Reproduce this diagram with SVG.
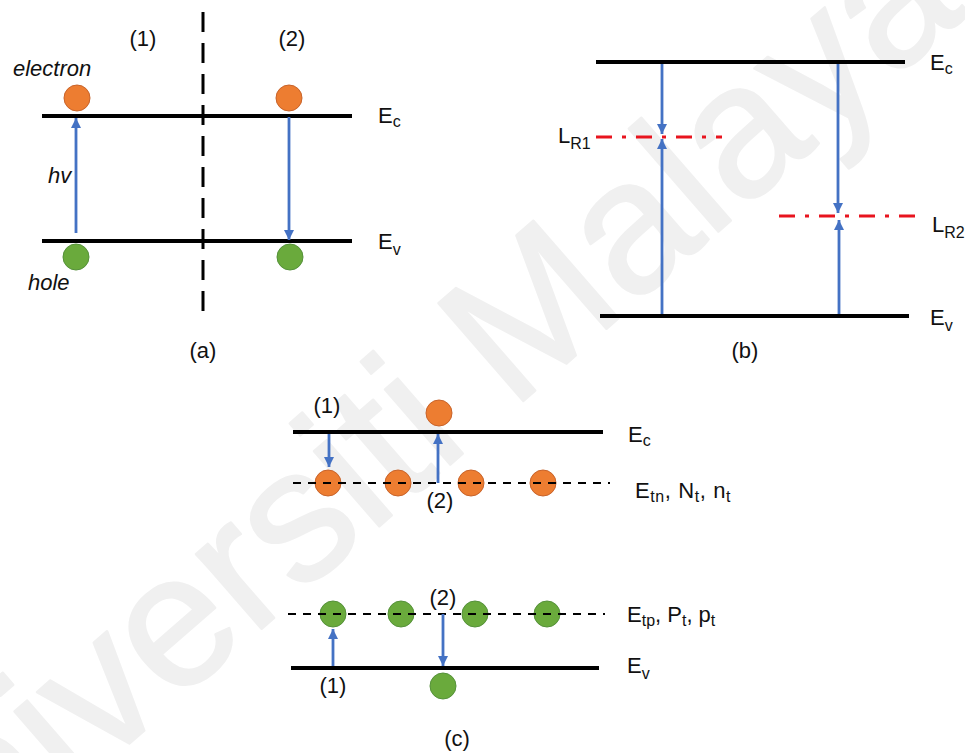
<svg xmlns="http://www.w3.org/2000/svg" width="965" height="753" viewBox="0 0 965 753">
<style>
text{font-family:"Liberation Sans",Arial,sans-serif;font-size:22px;fill:#111}
.it{font-style:italic}
.sub{font-size:16px}
.lvl{stroke:#000;stroke-width:4;fill:none}
.dsh{stroke:#000;stroke-width:2;stroke-dasharray:8 7;fill:none}
.red{stroke:#e8141e;stroke-width:3;stroke-dasharray:16 10 4 10;fill:none}
.arr{stroke:#4472c4;stroke-width:2.8;fill:none;marker-end:url(#ah)}
.el{fill:#ed7d31;stroke:#c8632a;stroke-width:1}
.ho{fill:#6aaa3c;stroke:#55913a;stroke-width:1}
.wm{font-size:188px;fill:#f0f0f0;stroke:#f0f0f0;stroke-width:2.5;stroke-linejoin:round;font-family:"Liberation Sans",Arial,sans-serif}
</style>
<defs>
<marker id="ah" viewBox="0 0 10 10" refX="10" refY="5" markerWidth="10" markerHeight="10" markerUnits="userSpaceOnUse" orient="auto"><path d="M0,0 L10,5 L0,10 z" fill="#4472c4"/></marker>
</defs>
<rect width="965" height="753" fill="#fff"/>
<text class="wm" text-anchor="middle" transform="translate(429,483) rotate(-41)">Universiti Malaya</text>

<g id="panel-a">
<line class="lvl" x1="42" y1="116" x2="352" y2="116"/>
<line class="lvl" x1="42" y1="241" x2="352" y2="241"/>
<line x1="203" y1="12" x2="203" y2="313" stroke="#000" stroke-width="3" stroke-dasharray="20 11"/>
<circle class="el" cx="77" cy="98" r="13"/>
<circle class="el" cx="289" cy="98" r="13"/>
<circle class="ho" cx="76" cy="257" r="13"/>
<circle class="ho" cx="290" cy="257" r="13"/>
<text x="143" y="46" text-anchor="middle">(1)</text>
<text x="292" y="46" text-anchor="middle">(2)</text>
<text class="it" x="13" y="76">electron</text>
<text class="it" x="48" y="183">hv</text>
<text class="it" x="28" y="290">hole</text>
<text x="378" y="123">E<tspan class="sub" dy="4">c</tspan></text>
<text x="378" y="249">E<tspan class="sub" dy="6">v</tspan></text>
<text x="203" y="358" text-anchor="middle">(a)</text>
</g>

<g id="panel-b">
<line class="lvl" x1="596" y1="62" x2="905" y2="62"/>
<line class="lvl" x1="600" y1="316" x2="909" y2="316"/>
<line class="red" x1="596" y1="137" x2="722" y2="137"/>
<line class="red" x1="779" y1="216" x2="917" y2="216"/>
<text x="558" y="143">L<tspan class="sub" dy="6">R1</tspan></text>
<text x="932" y="232">L<tspan class="sub" dy="6">R2</tspan></text>
<text x="930" y="70">E<tspan class="sub" dy="4">c</tspan></text>
<text x="930" y="325">E<tspan class="sub" dy="6">v</tspan></text>
<text x="745" y="358" text-anchor="middle">(b)</text>
</g>

<g id="panel-c">
<line class="lvl" x1="293" y1="432" x2="603" y2="432"/>
<circle class="el" cx="439" cy="413" r="13"/>
<circle class="el" cx="328" cy="483" r="13"/>
<circle class="el" cx="398" cy="483" r="13"/>
<circle class="el" cx="471" cy="483" r="13"/>
<circle class="el" cx="543" cy="483" r="13"/>
<line class="dsh" x1="293" y1="483" x2="610" y2="483"/>
<text x="327" y="413" text-anchor="middle">(1)</text>
<text x="440" y="508" text-anchor="middle">(2)</text>
<text x="628" y="442">E<tspan class="sub" dy="4">c</tspan></text>
<text x="635" y="498" letter-spacing="0.6">E<tspan class="sub" dy="4">tn</tspan><tspan dy="-4">, N</tspan><tspan class="sub" dy="4">t</tspan><tspan dy="-4">, n</tspan><tspan class="sub" dy="4">t</tspan></text>

<circle class="ho" cx="333" cy="614" r="13"/>
<circle class="ho" cx="401" cy="614" r="13"/>
<circle class="ho" cx="475" cy="614" r="13"/>
<circle class="ho" cx="547" cy="614" r="13"/>
<line class="dsh" x1="288" y1="614" x2="605" y2="614"/>
<line class="lvl" x1="291" y1="668" x2="599" y2="668"/>
<circle class="ho" cx="443" cy="686" r="13"/>
<text x="443" y="605" text-anchor="middle">(2)</text>
<text x="333" y="693" text-anchor="middle">(1)</text>
<text x="627" y="622">E<tspan class="sub" dy="4">tp</tspan><tspan dy="-4">, P</tspan><tspan class="sub" dy="4">t</tspan><tspan dy="-4">, p</tspan><tspan class="sub" dy="4">t</tspan></text>
<text x="627" y="673">E<tspan class="sub" dy="6">v</tspan></text>
<text x="457" y="746" text-anchor="middle">(c)</text>
</g>

<g id="connectors">
<line class="arr" x1="76" y1="233" x2="76" y2="118"/>
<line class="arr" x1="289" y1="117" x2="289" y2="240"/>
<line class="arr" x1="662" y1="64" x2="662" y2="134"/>
<line class="arr" x1="662" y1="314" x2="662" y2="139"/>
<line class="arr" x1="838" y1="64" x2="838" y2="213"/>
<line class="arr" x1="839" y1="314" x2="839" y2="220"/>
<line class="arr" x1="329" y1="434" x2="329" y2="467"/>
<line class="arr" x1="438" y1="483" x2="438" y2="434"/>
<line class="arr" x1="333" y1="666" x2="333" y2="629"/>
<line class="arr" x1="443" y1="614" x2="443" y2="666"/>
</g>
</svg>
